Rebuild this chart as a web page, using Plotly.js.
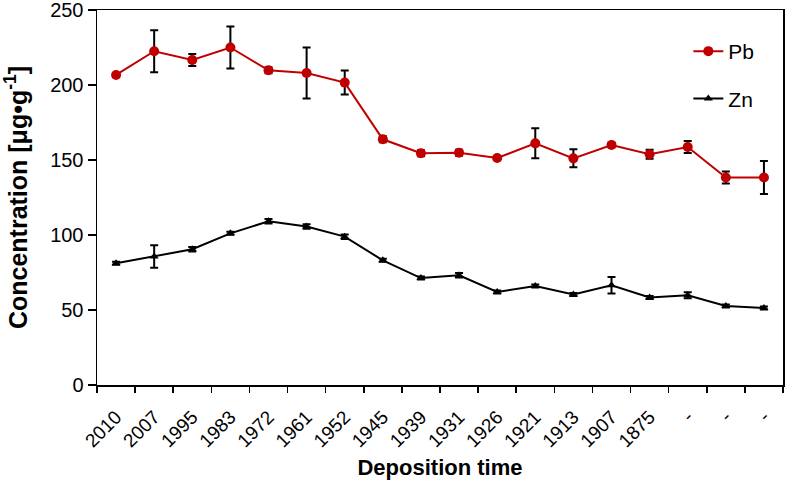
<!DOCTYPE html>
<html><head><meta charset="utf-8">
<script src="https://cdn.plot.ly/plotly-3.0.1.min.js"></script>
<style>html,body{margin:0;padding:0;background:#fff}#chart{width:788px;height:480px}</style>
</head><body><div id="chart"></div>
<script>
const categories = ["2010","2007","1995","1983","1972","1961","1952","1945","1939","1931","1926","1921","1913","1907","1875","-","-","-"];
const pbValues = [206.7, 222.5, 216.7, 225, 209.8, 208, 201.6, 163.8, 154.5, 154.9, 151.3, 161.1, 151.1, 160, 153.8, 158.7, 138.3, 138.3];
const pbErrors = [1, 14, 4, 14, 2, 17, 8, 2, 2, 2, 1, 10, 6, 1.5, 3, 4, 4, 11];
const znValues = [81.1, 85.6, 90.5, 101.1, 109.1, 105.6, 98.9, 83.1, 71.3, 73.1, 62, 66, 60.3, 66.5, 58.3, 59.8, 52.7, 51.3];
const znErrors = [1, 7.5, 1.5, 1, 1.5, 1.5, 1.5, 1, 1, 1.5, 1, 1, 1, 5.5, 1, 2, 1, 1];
const yTicks = [0, 50, 100, 150, 200, 250];

const idx = categories.map((c, i) => i);
const font = 'Liberation Sans, Arial, sans-serif';

const traces = [
  {x: idx, y: pbValues, name: 'Pb', type: 'scatter', mode: 'lines+markers', legendgroup: 'pb',
   line: {color: '#c00000', width: 2}, marker: {symbol: 'circle', size: 10, color: '#c00000'},
   error_y: {type: 'data', array: pbErrors, visible: true, color: '#000', thickness: 2, width: 4}},
  {x: idx, y: znValues, name: 'Zn', type: 'scatter', mode: 'lines+markers', legendgroup: 'zn',
   line: {color: '#000', width: 2}, marker: {symbol: 'triangle-up', size: 8, color: '#000'},
   error_y: {type: 'data', array: znErrors, visible: true, color: '#000', thickness: 2, width: 4}}
];

const layout = {
  width: 788, height: 480,
  margin: {l: 97, r: 5, t: 10, b: 95},
  paper_bgcolor: '#fff', plot_bgcolor: '#fff',
  font: {family: font, color: '#000', size: 20},
  showlegend: true,
  legend: {x: 0.862, y: 0.944, xanchor: 'left', yanchor: 'top', bgcolor: 'rgba(0,0,0,0)',
           font: {size: 21, family: font}, traceorder: 'grouped', tracegroupgap: 17},
  xaxis: {
    type: 'linear', range: [-0.5, categories.length - 0.5],
    tickmode: 'array', tickvals: idx, ticktext: categories, tickangle: -45,
    ticks: '', showgrid: false, zeroline: false, ticklabelstandoff: 12,
    showline: true, linecolor: '#000', linewidth: 1.5, mirror: true,
    tickfont: {size: 19, family: font},
    minor: {tickmode: 'linear', tick0: -0.5, dtick: 1, ticks: 'outside', ticklen: 6, tickwidth: 1.5, tickcolor: '#000', showgrid: false},
    title: {text: 'Deposition time', font: {size: 22, family: font, weight: 'bold'}, standoff: 10}
  },
  yaxis: {
    range: [0, 250], tickmode: 'array', tickvals: yTicks, ticklabeloverflow: 'allow',
    ticks: 'outside', ticklen: 8, tickwidth: 1.5, tickcolor: '#000',
    showgrid: false, zeroline: false,
    showline: true, linecolor: '#000', linewidth: 1.5, mirror: true,
    tickfont: {size: 20, family: font},
    title: {text: 'Concentration [μg•g<sup>-1</sup>]', font: {size: 25, family: font, weight: 'bold'}, standoff: 20}
  }
};

Plotly.newPlot('chart', traces, layout, {staticPlot: true, displayModeBar: false});
</script>
</body></html>
